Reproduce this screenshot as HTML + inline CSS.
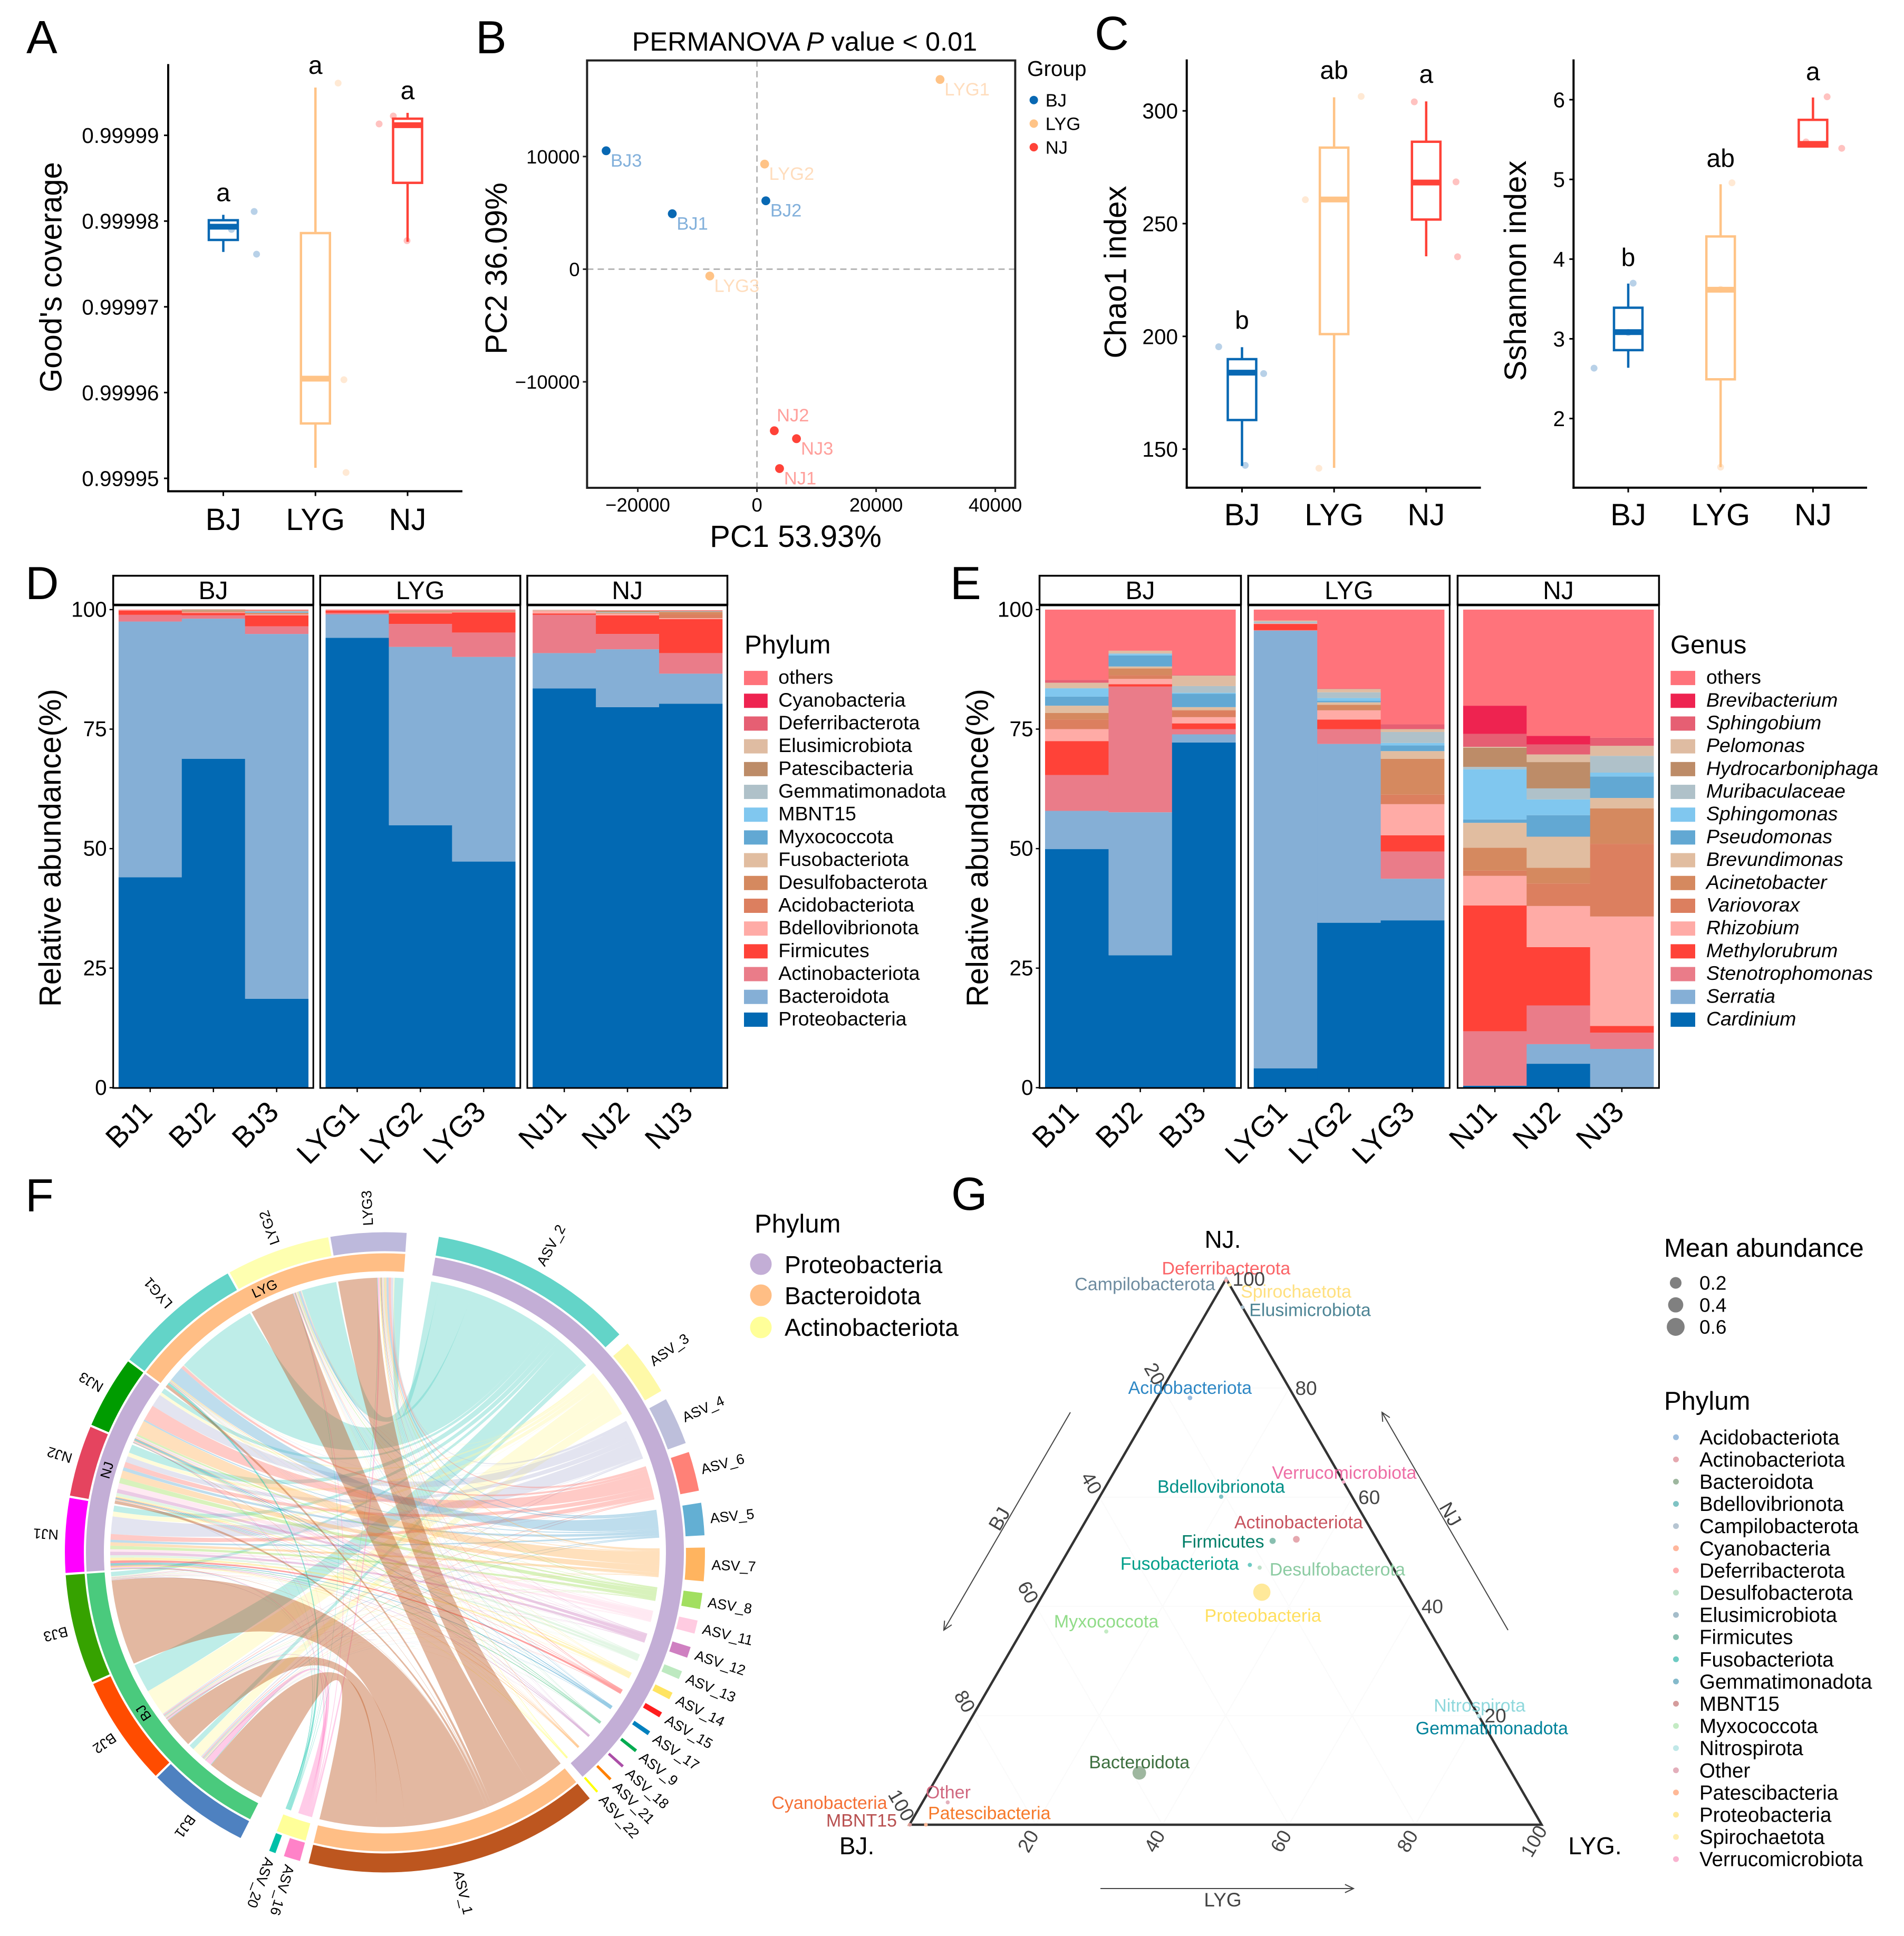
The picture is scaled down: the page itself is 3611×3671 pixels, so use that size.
<!DOCTYPE html>
<html lang="en">
<head>
<meta charset="utf-8">
<title>Microbiome composition figure</title>
<style>
html,body{margin:0;padding:0;background:#fff;}
svg{display:block;}
text{font-family:"Liberation Sans",Arial,sans-serif;fill:#000;}
</style>
</head>
<body>
<svg id="fig" xmlns="http://www.w3.org/2000/svg" width="3611" height="3671" viewBox="0 0 3611 3671">
<rect x="0" y="0" width="3611" height="3671" fill="#fff"/>
<text x="50" y="101" font-size="88">A</text>
<text x="902" y="101" font-size="88">B</text>
<text x="2076" y="94" font-size="90">C</text>
<text x="48" y="1136" font-size="88">D</text>
<text x="1802" y="1136" font-size="88">E</text>
<text x="48" y="2297" font-size="88">F</text>
<text x="1804" y="2294" font-size="88">G</text>

<text transform="translate(116.7,525.5) rotate(-90)" text-anchor="middle" font-size="58">Good's coverage</text>
<text transform="translate(961,509) rotate(-90)" text-anchor="middle" font-size="58">PC2 36.09%</text>
<text x="1509" y="1037" text-anchor="middle" font-size="58">PC1 53.93%</text>
<text x="1526" y="96" text-anchor="middle" font-size="50.5">PERMANOVA <tspan font-style="italic">P</tspan> value &lt; 0.01</text>
<text transform="translate(2135.6,516) rotate(-90)" text-anchor="middle" font-size="58.3">Chao1 index</text>
<text transform="translate(2894,513.5) rotate(-90)" text-anchor="middle" font-size="58.3">Sshannon index</text>
<text transform="translate(114.8,1607.7) rotate(-90)" text-anchor="middle" font-size="58">Relative abundance(%)</text>
<text transform="translate(1873.4,1607.7) rotate(-90)" text-anchor="middle" font-size="58">Relative abundance(%)</text>

<text x="1948" y="144" font-size="40.5">Group</text>
<text x="1412" y="1239" font-size="49">Phylum</text>
<text x="3168" y="1239" font-size="49">Genus</text>

<g>
<text x="1431" y="2337" font-size="49">Phylum</text>
<circle cx="1443" cy="2397" r="20.5" fill="#C3AED6"/>
<circle cx="1443" cy="2456" r="20.5" fill="#FFBE85"/>
<circle cx="1443" cy="2517" r="20.5" fill="#FFFF99"/>
<text x="1488" y="2414" font-size="46">Proteobacteria</text>
<text x="1488" y="2473" font-size="46">Bacteroidota</text>
<text x="1488" y="2533" font-size="46">Actinobacteriota</text>
</g>

<g>
<text x="3156" y="2383" font-size="49">Mean abundance</text>
</g>
<text x="3156" y="2673" font-size="49">Phylum</text>

<g id="panel-a"></g>
<g id="panel-b"></g>
<g id="panel-c1"></g>
<g id="panel-c2"></g>
<g id="panel-d"></g>
<g id="panel-e"></g>
<g id="panel-f"></g>
<g id="panel-g"></g>
</svg>

<script>
/* ---------- Panel A data ---------- */
const groupNames = ['BJ', 'LYG', 'NJ'];
const goodTicks = [0.99995, 0.99996, 0.99997, 0.99998, 0.99999];
const goodLow = [0.9999764, 0.99995123, 0.99997758];
const goodQ1 = [0.9999778, 0.9999564, 0.99998446];
const goodMedian = [0.99997934, 0.99996162, 0.99999118];
const goodQ3 = [0.9999801, 0.9999786, 0.99999194];
const goodHigh = [0.99998073, 0.99999557, 0.99999262];
const goodPoints = [[0.99998112, 0.99997614, 0.99997903], [0.99999609, 0.9999615, 0.99995068], [0.99999133, 0.99999225, 0.99997771]];
const goodJitter = [[0.335, 0.361, 0.089], [0.246, 0.309, 0.332], [-0.309, -0.155, -0.006]];
const goodLetters = ['a', 'a', 'a'];

/* ---------- Panel B data ---------- */
const pcoaSamples = ['BJ1', 'BJ2', 'BJ3', 'LYG1', 'LYG2', 'LYG3', 'NJ1', 'NJ2', 'NJ3'];
const pcoaGroup = [0, 0, 0, 1, 1, 1, 2, 2, 2];
const pcoaPC1 = [-14213, 1489, -25313, 30728, 1286, -7919, 3790, 2910, 6633];
const pcoaPC2 = [4920, 6070, 10511, 16837, 9329, -607, -17700, -14345, -15048];
const pcoaXTicks = [-20000, 0, 20000, 40000];
const pcoaYTicks = [-10000, 0, 10000];

/* ---------- Panel C data ---------- */
const chaoTicks = [150, 200, 250, 300];
const chaoLow = [142.5, 141.7, 235.5];
const chaoQ1 = [162.9, 201, 251.8];
const chaoMedian = [183.9, 260.7, 268.2];
const chaoQ3 = [189.9, 283.7, 286.3];
const chaoHigh = [195.2, 306, 304.2];
const chaoPoints = [[195.4, 183.5, 142.8], [260.6, 306.4, 141.5], [304, 268.5, 235.3]];
const chaoJitter = [[-0.253, 0.235, 0.035], [-0.312, 0.294, -0.165], [-0.129, 0.324, 0.341]];
const chaoLetters = ['b', 'ab', 'a'];

const shanTicks = [2, 3, 4, 5, 6];
const shanLow = [2.637, 1.39, 5.40];
const shanQ1 = [2.858, 2.492, 5.413];
const shanMedian = [3.084, 3.616, 5.445];
const shanQ3 = [3.39, 4.284, 5.747];
const shanHigh = [3.693, 4.939, 6.027];
const shanPoints = [[2.632, 3.698, 3.08], [4.957, 1.39, 3.62], [6.036, 5.39, 5.47]];
const shanJitter = [[-0.37, 0.053, 0], [0.123, 0, 0], [0.153, 0.311, -0.076]];
const shanLetters = ['b', 'ab', 'a'];

/* ---------- Panel D data (percent per sample: BJ1..BJ3, LYG1..LYG3, NJ1..NJ3) ---------- */
const barSamples = [['BJ1', 'BJ2', 'BJ3'], ['LYG1', 'LYG2', 'LYG3'], ['NJ1', 'NJ2', 'NJ3']];
const abundanceTicks = [0, 25, 50, 75, 100];
const phylumNames = ['Proteobacteria', 'Bacteroidota', 'Actinobacteriota', 'Firmicutes', 'Bdellovibrionota', 'Acidobacteriota', 'Desulfobacterota', 'Fusobacteriota', 'Myxococcota', 'MBNT15', 'Gemmatimonadota', 'Patescibacteria', 'Elusimicrobiota', 'Deferribacterota', 'Cyanobacteria', 'others'];
const pProteobacteria = [44, 68.8, 18.6, 94.1, 54.9, 47.3, 83.5, 79.6, 80.3];
const pBacteroidota = [53.5, 29.3, 76.3, 4.9, 37.3, 42.8, 7.4, 12.1, 6.3];
const pActinobacteriota = [1.4, 0.7, 1.6, 0.3, 4.8, 5.1, 8, 3.2, 4.3];
const pFirmicutes = [0.9, 0.5, 2.3, 0.5, 2.2, 4.2, 0.3, 3.9, 7.1];
const pBdellovibrionota = [0.1, 0.15, 0.2, 0.05, 0.2, 0.1, 0.5, 0.3, 0.2];
const pAcidobacteriota = [0, 0.1, 0.1, 0, 0.1, 0.05, 0.05, 0.05, 0.8];
const pDesulfobacterota = [0, 0.15, 0.2, 0, 0.1, 0.1, 0.05, 0.1, 0.5];
const pFusobacteriota = [0, 0.05, 0.05, 0, 0.05, 0.05, 0.05, 0.1, 0.05];
const pMyxococcota = [0, 0, 0.15, 0, 0.02, 0.02, 0, 0.05, 0.05];
const pMBNT15 = [0, 0, 0.05, 0, 0, 0, 0, 0, 0];
const pGemmatimonadota = [0, 0.02, 0.1, 0, 0.03, 0.03, 0.02, 0.05, 0.02];
const pPatescibacteria = [0, 0.2, 0.1, 0, 0.1, 0.05, 0.02, 0.3, 0.1];
const pElusimicrobiota = [0, 0.05, 0.05, 0, 0.05, 0.02, 0.01, 0.02, 0.02];
const pDeferribacterota = [0, 0, 0, 0, 0, 0, 0, 0, 0.01];
const pCyanobacteria = [0, 0, 0, 0, 0, 0, 0, 0, 0.02];
const pOthers = [0.1, 0.05, 0.2, 0.15, 0.15, 0.18, 0.05, 0.1, 0.1];

/* ---------- Panel E data ---------- */
const genusNames = ['Cardinium', 'Serratia', 'Stenotrophomonas', 'Methylorubrum', 'Rhizobium', 'Variovorax', 'Acinetobacter', 'Brevundimonas', 'Pseudomonas', 'Sphingomonas', 'Muribaculaceae', 'Hydrocarboniphaga', 'Pelomonas', 'Sphingobium', 'Brevibacterium', 'others'];
const gCardinium = [49.9, 27.7, 72.2, 4.05, 34.5, 35, 0.4, 5, 0];
const gSerratia = [8, 29.9, 1.7, 91.55, 37.4, 8.7, 0, 4.1, 8.1];
const gStenotrophomonas = [7.5, 26.3, 1.1, 0.1, 3.1, 5.7, 11.4, 8.1, 3.4];
const gMethylorubrum = [7.1, 0.5, 1.2, 1.3, 2, 3.4, 26.3, 12.2, 1.4];
const gRhizobium = [2.5, 1.1, 1.3, 0.1, 1.9, 6.5, 6.2, 8.6, 22.9];
const gVariovorax = [2, 0.8, 1.4, 0, 0.1, 2, 1.1, 4.7, 15.2];
const gAcinetobacter = [1.4, 1.4, 0.1, 0, 1.1, 7.5, 4.8, 3.3, 7.4];
const gBrevundimonas = [1.5, 0.4, 0.6, 0, 0.5, 1.6, 5.2, 6.5, 2.2];
const gPseudomonas = [1.9, 2.3, 2.8, 0, 0.3, 1.2, 0.7, 4.5, 4.5];
const gSphingomonas = [1.7, 0.3, 0.2, 0, 0.6, 0.5, 10.5, 3.3, 0.8];
const gMuribaculaceae = [0.1, 0.2, 1.4, 0.4, 1.2, 2.3, 0.5, 2.3, 3.5];
const gHydrocarboniphaga = [0, 0, 0, 0, 0, 0, 4, 5.5, 0];
const gPelomonas = [1.1, 0.5, 2.2, 0.2, 0.7, 0.6, 0.2, 1.6, 2.1];
const gSphingobium = [0.6, 0, 0.1, 0, 0.1, 1, 2.7, 2.1, 1.7];
const gBrevibacterium = [0, 0, 0, 0, 0, 0, 5.9, 1.8, 0];
const gOthers = [14.7, 8.6, 13.7, 2.3, 16.5, 24, 20.1, 26.4, 26.8];

/* ---------- Panel F data: flow of each ASV into BJ1,BJ2,BJ3,NJ1,NJ2,NJ3,LYG1,LYG2,LYG3 ---------- */
const chordSamples = ['BJ1', 'BJ2', 'BJ3', 'NJ1', 'NJ2', 'NJ3', 'LYG1', 'LYG2', 'LYG3'];
const chordAsvs = ['ASV_2', 'ASV_3', 'ASV_4', 'ASV_6', 'ASV_5', 'ASV_7', 'ASV_8', 'ASV_11', 'ASV_12', 'ASV_13', 'ASV_14', 'ASV_15', 'ASV_17', 'ASV_9', 'ASV_18', 'ASV_21', 'ASV_22', 'ASV_1', 'ASV_16', 'ASV_20'];
const flowAsv2 = [1.05, 5.8, 0.9, 1.2, 1.7, 1, 16.8, 7.1, 1.8];
const flowAsv3 = [2.1, 5.4, 0.1, 1, 0.8, 0.6, 0.1, 0.1, 0.2];
const flowAsv4 = [0.3, 0.2, 0.1, 3.5, 1.2, 2.6, 0.1, 0.1, 0.5];
const flowAsv6 = [0.2, 0.2, 0.1, 1.15, 1.1, 3.2, 0.6, 0.1, 0.5];
const flowAsv5 = [0.2, 0.2, 0.05, 0.5, 0.7, 0.3, 3.1, 0.4, 0.4];
const flowAsv7 = [0.1, 0.1, 0.05, 0.7, 1.5, 2.9, 0.2, 0.1, 0.4];
const flowAsv8 = [0.1, 0.1, 0.05, 0.7, 1.1, 0.4, 0.1, 0.2, 0.15];
const flowAsv11 = [0.1, 0.1, 0.05, 0.5, 1.2, 0.2, 0.05, 0.1, 0.1];
const flowAsv12 = [0.05, 0.1, 0.05, 0.7, 0.8, 0.1, 0.05, 0.05, 0.1];
const flowAsv13 = [0.05, 0.05, 0.02, 0.5, 0.6, 0.1, 0.03, 0.05, 0.1];
const flowAsv14 = [0.03, 0.05, 0.02, 0.6, 0.3, 0.1, 0.03, 0.07, 0.1];
const flowAsv15 = [0.03, 0.05, 0.02, 0.5, 0.1, 0.1, 0.02, 0.08, 0.1];
const flowAsv17 = [0.03, 0.05, 0.01, 0.25, 0.1, 0.2, 0.03, 0.08, 0.05];
const flowAsv9 = [0.02, 0.02, 0.01, 0.2, 0.1, 0.15, 0.02, 0.03, 0.05];
const flowAsv18 = [0.02, 0.02, 0.01, 0.15, 0.1, 0.1, 0.02, 0.03, 0.05];
const flowAsv21 = [0.01, 0.02, 0.01, 0.15, 0.1, 0.05, 0.02, 0.04, 0.1];
const flowAsv22 = [0.01, 0.02, 0.01, 0.1, 0.05, 0.05, 0.02, 0.04, 0.1];
const flowAsv1 = [11.9, 6.2, 17.2, 0.1, 0.6, 0.1, 0.6, 9, 7.8];
const flowAsv16 = [1.3, 0.3, 0.1, 0.3, 0.1, 0.2, 0.1, 0.2, 0.4];
const flowAsv20 = [0.1, 0.1, 0.05, 0.1, 0.05, 0.1, 0.5, 0.1, 0.1];

/* ---------- Panel G data (percent composition and mean abundance) ---------- */
const ternaryNames = ['Acidobacteriota', 'Actinobacteriota', 'Bacteroidota', 'Bdellovibrionota', 'Campilobacterota', 'Cyanobacteria', 'Deferribacterota', 'Desulfobacterota', 'Elusimicrobiota', 'Firmicutes', 'Fusobacteriota', 'Gemmatimonadota', 'MBNT15', 'Myxococcota', 'Nitrospirota', 'Other', 'Patescibacteria', 'Proteobacteria', 'Spirochaetota', 'Verrucomicrobiota'];
const ternaryBJ = [16.6, 12.7, 58.9, 20.7, 0, 100, 0.15, 21.1, 0, 16.6, 22.4, 0, 99.9, 51.2, 0, 91.9, 97.4, 23, 0, 0];
const ternaryLYG = [5.2, 35, 31.6, 19.2, 0, 0, 0.15, 31.8, 5.2, 31.4, 30, 80.2, 0.1, 13.4, 80, 4, 2.6, 34.4, 1.1, 37.2];
const ternaryNJ = [78.2, 52.3, 9.5, 60.1, 100, 0, 99.7, 47.1, 94.8, 52, 47.6, 19.8, 0, 35.4, 20, 4.1, 0, 42.6, 98.9, 62.8];
const ternaryAbundance = [0.006, 0.035, 0.3, 0.004, 0.0005, 0.0005, 0.0005, 0.003, 0.001, 0.025, 0.003, 0.0005, 0.0005, 0.003, 0.0005, 0.002, 0.001, 0.55, 0.0005, 0.0005];
const ternaryTicks = [20, 40, 60, 80, 100];
const sizeLegendValues = [0.2, 0.4, 0.6];

/* ---------- Helpers ---------- */
const NS = 'http://www.w3.org/2000/svg';
function mk(parent, tag, attrs, txt) {
  const el = document.createElementNS(NS, tag);
  for (const k in attrs) el.setAttribute(k, attrs[k]);
  if (txt !== undefined) el.textContent = txt;
  parent.appendChild(el);
  return el;
}
function linear(d0, d1, r0, r1) { return v => r0 + (v - d0) * (r1 - r0) / (d1 - d0); }
const byId = id => document.getElementById(id);

/* ---------- Box plots (A, C) ---------- */
const groupColors = ['#0868B3', '#FFC386', '#FF4238'];
const groupFaint = ['#B8D1E8', '#FFE9D4', '#FFC2C0'];
function drawBoxPanel(c) {
  const g = byId(c.id);
  const lineY = mk(g, 'line', {x1: c.left, x2: c.left, y1: c.top, y2: c.bottom + 2, stroke: '#000', 'stroke-width': 4});
  
  
  const lineX = mk(g, 'line', {x1: c.left - 2, x2: c.right, y1: c.bottom, y2: c.bottom, stroke: '#000', 'stroke-width': 4});
  
  
  c.ticks.forEach(t => {
    const tk = mk(g, 'line', {x1: c.left - 8, x2: c.left, y1: c.y(t), y2: c.y(t), stroke: '#000', 'stroke-width': 3});
    
    
    const lb = mk(g, 'text', {x: c.labelEnd, y: c.y(t) + 14.5, 'text-anchor': 'end', 'font-size': 40.5}, c.fmt(t));
    
    
  });
  groupNames.forEach((name, i) => {
    const cx = c.x(i);
    const tk = mk(g, 'line', {x1: cx, x2: cx, y1: c.bottom, y2: c.bottom + 9, stroke: '#000', 'stroke-width': 3});
    
    
    const lb = mk(g, 'text', {x: cx, y: c.catBase, 'text-anchor': 'middle', 'font-size': 58}, name);
    
    
    const col = groupColors[i];
    c.points[i].forEach((v, j) => {
      const p = mk(g, 'circle', {cx: c.x(i + c.jitter[i][j]), cy: c.y(v), r: 6.5, fill: groupFaint[i]});
      
      
    });
    const wh = mk(g, 'line', {x1: cx, x2: cx, y1: c.y(c.high[i]), y2: c.y(c.q3[i]), stroke: col, 'stroke-width': 4.5});
    
    
    const wl = mk(g, 'line', {x1: cx, x2: cx, y1: c.y(c.q1[i]), y2: c.y(c.low[i]), stroke: col, 'stroke-width': 4.5});
    
    
    const box = mk(g, 'rect', {x: cx - c.half, y: c.y(c.q3[i]), width: c.half * 2, height: c.y(c.q1[i]) - c.y(c.q3[i]), fill: 'none', stroke: col, 'stroke-width': 4.5});
    
    
    const md = mk(g, 'line', {x1: cx - c.half, x2: cx + c.half, y1: c.y(c.med[i]), y2: c.y(c.med[i]), stroke: col, 'stroke-width': 11});
    
    
    const let1 = mk(g, 'text', {x: cx, y: c.y(c.high[i]) - c.letterGap + 13, 'text-anchor': 'middle', 'font-size': 48}, c.letters[i]);
    
    
  });
}
drawBoxPanel({id: 'panel-a', key: 'good-coverage', x: linear(0, 1, 423.5, 598.25), y: linear(0.99995, 0.99999, 907, 256.6),
  ticks: goodTicks, fmt: t => t.toFixed(5), low: goodLow, q1: goodQ1, med: goodMedian, q3: goodQ3, high: goodHigh,
  points: goodPoints, jitter: goodJitter, letters: goodLetters, left: 319, right: 877, top: 121.5, bottom: 931.5,
  half: 27.5, labelEnd: 301.6, catBase: 1005, letterGap: 39});
drawBoxPanel({id: 'panel-c1', key: 'chao1', x: linear(0, 1, 2355.5, 2530.15), y: linear(150, 300, 851.6, 210.2),
  ticks: chaoTicks, fmt: t => String(t), low: chaoLow, q1: chaoQ1, med: chaoMedian, q3: chaoQ3, high: chaoHigh,
  points: chaoPoints, jitter: chaoJitter, letters: chaoLetters, left: 2250.7, right: 2808.6, top: 112.6, bottom: 924.7,
  half: 27, labelEnd: 2234, catBase: 996, letterGap: 48});
drawBoxPanel({id: 'panel-c2', key: 'shannon', x: linear(0, 1, 3088, 3263.2), y: linear(2, 6, 793.6, 189),
  ticks: shanTicks, fmt: t => String(t), low: shanLow, q1: shanQ1, med: shanMedian, q3: shanQ3, high: shanHigh,
  points: shanPoints, jitter: shanJitter, letters: shanLetters, left: 2984.3, right: 3541, top: 112.6, bottom: 924.7,
  half: 27, labelEnd: 2968, catBase: 996, letterGap: 46});

/* ---------- Panel B ---------- */
(function () {
  const g = byId('panel-b');
  const L = 1113.4, R = 1925.4, T = 114.6, B = 925;
  const X = linear(0, 20000, 1435.6, 1661.6);
  const Y = linear(0, 10000, 510.4, 296.8);
  const labelColors = ['#82B0DB', '#FFDDBD', '#FF9F9B'];
  const h = mk(g, 'line', {x1: L, x2: R, y1: Y(0), y2: Y(0), stroke: '#AAA', 'stroke-width': 2.5, 'stroke-dasharray': '12 8'});
  
  
  const v = mk(g, 'line', {x1: X(0), x2: X(0), y1: T, y2: B, stroke: '#AAA', 'stroke-width': 2.5, 'stroke-dasharray': '12 8'});
  
  
  const frame = mk(g, 'rect', {x: L, y: T, width: R - L, height: B - T, fill: 'none', stroke: '#222', 'stroke-width': 4});
  
  
  pcoaXTicks.forEach(t => {
    const tk = mk(g, 'line', {x1: X(t), x2: X(t), y1: B, y2: B + 8, stroke: '#222', 'stroke-width': 3});
    
    
    const lb = mk(g, 'text', {x: X(t), y: 970, 'text-anchor': 'middle', 'font-size': 36.5}, String(t).replace('-', '\u2212'));
    
    
  });
  pcoaYTicks.forEach(t => {
    const tk = mk(g, 'line', {x1: L - 8, x2: L, y1: Y(t), y2: Y(t), stroke: '#222', 'stroke-width': 3});
    
    
    const lb = mk(g, 'text', {x: 1099.6, y: Y(t) + 13, 'text-anchor': 'end', 'font-size': 36.5}, String(t).replace('-', '\u2212'));
    
    
  });
  pcoaSamples.forEach((s, i) => {
    const col = pcoaGroup[i];
    const p = mk(g, 'circle', {cx: X(pcoaPC1[i]), cy: Y(pcoaPC2[i]), r: 8.4, fill: groupColors[col]});
    
    
    const above = s === 'NJ2';
    const lb = mk(g, 'text', {x: X(pcoaPC1[i]) + (above ? 4.6 : 8.4), y: Y(pcoaPC2[i]) + (above ? -18 : 30), 'font-size': 34.5, style: 'fill:' + labelColors[col]}, s);
    
    
  });
  groupNames.forEach((name, i) => {
    const d = mk(g, 'circle', {cx: 1960.6, cy: 189.7 + i * 44.7, r: 8, fill: groupColors[i]});
    
    
    const lb = mk(g, 'text', {x: 1982.8, y: 202 + i * 44.7, 'font-size': 34.5}, name);
    
    
  });
})();

/* ---------- Stacked bars (D, E) ---------- */
const stackColors = ['#0269B3', '#85AFD6', '#EA7C89', '#FF4238', '#FFABA6', '#DC7F5F', '#D5895F', '#E1BDA0', '#62A8D3', '#80C7EF', '#AFC1C9', '#BD8C68', '#DFBCA2', '#E65F73', '#EE2350', '#FF737B'];
function drawStack(c) {
  const g = byId(c.id);
  const Y = linear(0, 100, 2062.4, 1155.9);
  barSamples.forEach((samples, f) => {
    const L = c.facetLeft[f], Rr = L + c.facetWidth;
    const strip = mk(g, 'rect', {x: L, y: 1091.7, width: c.facetWidth, height: 54.8, fill: '#fff', stroke: '#000', 'stroke-width': 3.5});
    
    
    const st = mk(g, 'text', {x: (L + Rr) / 2, y: 1136, 'text-anchor': 'middle', 'font-size': 48}, groupNames[f]);
    
    
    samples.forEach((s, j) => {
      const idx = f * 3 + j;
      const x0 = L + c.pad + j * c.step;
      let cum = 0;
      c.series.forEach((vals, k) => {
        const v = vals[idx];
        if (v > 0) {
          const bar = mk(g, 'rect', {x: x0, y: Y(cum + v), width: c.step + 0.4, height: Y(cum) - Y(cum + v), fill: stackColors[k]});
          
          
        }
        cum += v;
      });
      const cx = x0 + c.step / 2;
      const tk = mk(g, 'line', {x1: cx, x2: cx, y1: 2063, y2: 2071, stroke: '#000', 'stroke-width': 2.5});
      
      
      const lb = mk(g, 'text', {transform: 'translate(' + (cx + 7) + ',2112) rotate(-45)', 'text-anchor': 'end', 'font-size': 56}, s);
      
      
    });
    const frame = mk(g, 'rect', {x: L, y: 1148, width: c.facetWidth, height: 915, fill: 'none', stroke: '#000', 'stroke-width': 3});
    
    
  });
  abundanceTicks.forEach(t => {
    const tk = mk(g, 'line', {x1: c.facetLeft[0] - 7, x2: c.facetLeft[0], y1: Y(t), y2: Y(t), stroke: '#000', 'stroke-width': 2.5});
    
    
    const lb = mk(g, 'text', {x: c.facetLeft[0] - 12, y: Y(t) + 13.5, 'text-anchor': 'end', 'font-size': 40.5}, String(t));
    
    
  });
  for (let i = 0; i < c.names.length; i++) {
    const k = c.names.length - 1 - i;
    const cy = 1285.6 + i * 43.19;
    const sw = mk(g, 'rect', {x: c.legendX, y: cy - 13.5, width: c.swatchW, height: 27, fill: stackColors[k]});
    
    
    const lb = mk(g, 'text', {x: c.legendTextX, y: cy + 11, 'font-size': 37.4, 'font-style': (c.italic && c.names[k] !== 'others') ? 'italic' : 'normal'}, c.names[k]);
    
    
  }
}
drawStack({id: 'panel-d', key: 'phylum', names: phylumNames, italic: false,
  series: [pProteobacteria, pBacteroidota, pActinobacteriota, pFirmicutes, pBdellovibrionota, pAcidobacteriota, pDesulfobacterota, pFusobacteriota, pMyxococcota, pMBNT15, pGemmatimonadota, pPatescibacteria, pElusimicrobiota, pDeferribacterota, pCyanobacteria, pOthers],
  facetLeft: [214.7, 607.3, 1000], facetWidth: 379.5, pad: 10.2, step: 119.9, legendX: 1411, swatchW: 44.8, legendTextX: 1476.3});
drawStack({id: 'panel-e', key: 'genus', names: genusNames, italic: true,
  series: [gCardinium, gSerratia, gStenotrophomonas, gMethylorubrum, gRhizobium, gVariovorax, gAcinetobacter, gBrevundimonas, gPseudomonas, gSphingomonas, gMuribaculaceae, gHydrocarboniphaga, gPelomonas, gSphingobium, gBrevibacterium, gOthers],
  facetLeft: [1971.5, 2367.3, 2764.4], facetWidth: 382, pad: 10.5, step: 120.4, legendX: 3168.4, swatchW: 46.6, legendTextX: 3236});

/* ---------- Panel F: chord diagram ---------- */
(function () {
  const g = byId('panel-f');
  const CX = 730, CY = 2943.5;
  const flows = [flowAsv2, flowAsv3, flowAsv4, flowAsv6, flowAsv5, flowAsv7, flowAsv8, flowAsv11, flowAsv12, flowAsv13, flowAsv14, flowAsv15, flowAsv17, flowAsv9, flowAsv18, flowAsv21, flowAsv22, flowAsv1, flowAsv16, flowAsv20];
  const asvColors = ['#63D4C8', '#FEF9A8', '#BDBFDB', '#FF8177', '#63AFD3', '#FFB45F', '#A2DF60', '#FFCBE1', '#CF80C1', '#BDE9C0', '#FFE461', '#FF1E1E', '#0080BE', '#03AB50', '#AB4EA7', '#FF8000', '#FFFF00', '#BD561F', '#FF82C8', '#00C0A8'];
  const sampleColors = ['#4E81C0', '#FF4C00', '#36A200', '#FF00FF', '#E5445F', '#009C00', '#63D4C8', '#FEFFB0', '#BDB9DC'];
  const asvGaps = [2.2, 1.7, 1.7, 2.2, 2.2, 2.1, 2.1, 2.5, 2.6, 2.7, 2.7, 3, 3.2, 3.1, 2.7, 2.8, 1.6, 1.6, 1.6];
  const pol = (deg, r) => { const a = deg * Math.PI / 180; return [CX + r * Math.sin(a), CY - r * Math.cos(a)]; };
  const pt = p => p[0].toFixed(1) + ' ' + p[1].toFixed(1);
  const sector = (a, b, r0, r1) => 'M' + pt(pol(a, r1)) + 'A' + r1 + ' ' + r1 + ' 0 ' + (b - a > 180 ? 1 : 0) + ' 1 ' + pt(pol(b, r1)) + 'L' + pt(pol(b, r0)) + 'A' + r0 + ' ' + r0 + ' 0 ' + (b - a > 180 ? 1 : 0) + ' 0 ' + pt(pol(a, r0)) + 'Z';
  const rowSum = flows.map(f => f.reduce((s, v) => s + v, 0));
  const colSum = chordSamples.map((_, j) => flows.reduce((s, f) => s + f[j], 0));
  const total = rowSum.reduce((s, v) => s + v, 0);
  const gapsA = asvGaps.reduce((s, v) => s + v, 0);
  const kA = (201.2 - 9.7 - gapsA) / total;
  const kS = (363.9 - 206.8 - 0.4 * 8) / total;
  const asvStart = [], sampleStart = [];
  let a = 9.7;
  rowSum.forEach((v, i) => { asvStart.push(a); a += v * kA + (asvGaps[i] || 0); });
  let b = 206.8;
  colSum.forEach(v => { sampleStart.push(b); b += v * kS + 0.4; });
  const R = 521;
  const C = pt([CX, CY]);
  const asvOffsets = flows.map((f, i) => {
    const out = [];
    let c = asvStart[i];
    for (let j = f.length - 1; j >= 0; j--) { out[j] = c; c += f[j] * kA; }
    return out;
  });
  const ringOrder = [17, 19, 18, 16, 15, 14, 13, 12, 11, 10, 9, 8, 7, 6, 5, 4, 3, 2, 1, 0];
  const sampleOffsets = chordSamples.map((_, j) => {
    const out = [];
    let c = sampleStart[j];
    ringOrder.forEach(i => { out[i] = c; c += flows[i][j] * kS; });
    return out;
  });
  const ribbonOrder = [0, 1, 2, 3, 4, 5, 6, 7, 8, 9, 10, 11, 12, 13, 14, 15, 16, 18, 19, 17];
  ribbonOrder.forEach(i => {
    flows[i].forEach((v, j) => {
      if (v <= 0) return;
      const a1 = asvOffsets[i][j], a2 = a1 + v * kA;
      const b1 = sampleOffsets[j][i], b2 = b1 + v * kS;
      const d = 'M' + pt(pol(a1, R)) + 'A' + R + ' ' + R + ' 0 0 1 ' + pt(pol(a2, R)) + 'Q' + C + ' ' + pt(pol(b1, R)) + 'A' + R + ' ' + R + ' 0 0 1 ' + pt(pol(b2, R)) + 'Q' + C + ' ' + pt(pol(a1, R)) + 'Z';
      const rib = mk(g, 'path', {d: d, fill: asvColors[i], 'fill-opacity': 0.42});
      
      
    });
  });
  chordAsvs.forEach((name, i) => {
    const s = asvStart[i], e = s + rowSum[i] * kA;
    const seg = mk(g, 'path', {d: sector(s, e, 571, 607), fill: asvColors[i]});
    
    
    const mid = (s + e) / 2;
    const p = pol(mid, 620);
    const lb = mk(g, 'text', {transform: 'translate(' + p[0].toFixed(1) + ',' + p[1].toFixed(1) + ') rotate(' + (mid - 90).toFixed(1) + ')', 'font-size': 27, dy: '0.35em'}, name);
    
    
  });
  chordSamples.forEach((name, j) => {
    const s = sampleStart[j], e = s + colSum[j] * kS;
    const seg = mk(g, 'path', {d: sector(s, e, 571, 607), fill: sampleColors[j]});
    
    
    const mid = (s + e) / 2;
    const p = pol(mid, 620);
    const lb = mk(g, 'text', {transform: 'translate(' + p[0].toFixed(1) + ',' + p[1].toFixed(1) + ') rotate(' + (mid - 90).toFixed(1) + ')', 'font-size': 27, dy: '0.35em'}, name);
    
    
  });
  const asvEnd = i => asvStart[i] + rowSum[i] * kA;
  const sampleEnd = j => sampleStart[j] + colSum[j] * kS;
  const inner = [
    ['proteobacteria', asvStart[0], asvEnd(16), '#C3AED6', ''],
    ['bacteroidota', asvStart[17], asvEnd(17), '#FFBE85', ''],
    ['actinobacteriota', asvStart[18], asvEnd(19), '#FFFF99', ''],
    ['bj', sampleStart[0], sampleEnd(2), '#4ACA7D', 'BJ'],
    ['nj', sampleStart[3], sampleEnd(5), '#C3AED6', 'NJ'],
    ['lyg', sampleStart[6], sampleEnd(8), '#FFBE85', 'LYG']
  ];
  inner.forEach(r => {
    const seg = mk(g, 'path', {d: sector(r[1], r[2], 533, 567), fill: r[3]});
    
    
    if (r[4]) {
      const mid = (r[1] + r[2]) / 2;
      const p = pol(mid, 550);
      const lb = mk(g, 'text', {transform: 'translate(' + p[0].toFixed(1) + ',' + p[1].toFixed(1) + ') rotate(' + mid.toFixed(1) + ')', 'text-anchor': 'middle', 'font-size': 26, dy: '0.35em'}, r[4]);
      
      
    }
  });
})();

/* ---------- Panel G: ternary ---------- */
(function () {
  const g = byId('panel-g');
  const top = [2325.4, 2425], left = [1724.8, 3460], right = [2923.8, 3460];
  const ter = (bj, lyg, nj) => {
    const s = bj + lyg + nj;
    return [(bj * left[0] + lyg * right[0] + nj * top[0]) / s, (bj * left[1] + lyg * right[1] + nj * top[1]) / s];
  };
  const textColors = {Acidobacteriota: '#2F88C5', Actinobacteriota: '#C8545F', Bacteroidota: '#3E7040', Bdellovibrionota: '#009088', Campilobacterota: '#6E8CA0', Cyanobacteria: '#F57137', Deferribacterota: '#FB6467', Desulfobacterota: '#8CCBA2', Elusimicrobiota: '#4E8595', Firmicutes: '#007E68', Fusobacteriota: '#009F8A', Gemmatimonadota: '#00829A', MBNT15: '#B85050', Myxococcota: '#90DC88', Nitrospirota: '#8FD8DC', Other: '#D0677F', Patescibacteria: '#F67A2B', Proteobacteria: '#FFDF5F', Spirochaetota: '#FFE080', Verrucomicrobiota: '#EE6EA5'};
  const dotColors = {Acidobacteriota: '#9DBEDF', Actinobacteriota: '#E5A8AF', Bacteroidota: '#9EB79F', Bdellovibrionota: '#7FC3C4', Campilobacterota: '#B6C5D2', Cyanobacteria: '#FFB79D', Deferribacterota: '#FFAEAE', Desulfobacterota: '#BDE0C8', Elusimicrobiota: '#A5BDCA', Firmicutes: '#88BFB0', Fusobacteriota: '#6DCBC3', Gemmatimonadota: '#85BACB', MBNT15: '#D59C9C', Myxococcota: '#C4EBC4', Nitrospirota: '#C0E8E8', Other: '#E3AFBB', Patescibacteria: '#FFB997', Proteobacteria: '#FFE99A', Spirochaetota: '#FFEFB0', Verrucomicrobiota: '#F9B3D0'};
  const nudge = {Acidobacteriota: [0, -19.7], Actinobacteriota: [4.3, -32.8], Bacteroidota: [0, -20.6], Bdellovibrionota: [0, -19.7], Campilobacterota: [-154, 9.4], Cyanobacteria: [-151.8, -42.2], Deferribacterota: [0, -23.5], Desulfobacterota: [147.4, 2.8], Elusimicrobiota: [128, 4.7], Firmicutes: [-94.3, 0.9], Fusobacteriota: [-133, -2.8], Gemmatimonadota: [24, 21.6], MBNT15: [-92, -8.4], Myxococcota: [0, -19.7], Nitrospirota: [2, -19.7], Other: [1, -19.7], Patescibacteria: [120.3, -22.5], Proteobacteria: [2, 44], Spirochaetota: [126, 12.2], Verrucomicrobiota: [1.4, -17.8]};
  const sizeOf = a => 3 + 18 * Math.sqrt(a);

  ternaryTicks.slice(0, 4).forEach(t => {
    const f = t;
    [[ter(100 - f, 0, f), ter(0, 100 - f, f)], [ter(f, 100 - f, 0), ter(f, 0, 100 - f)], [ter(100 - f, f, 0), ter(0, f, 100 - f)]].forEach(pair => {
      const ln = mk(g, 'line', {x1: pair[0][0], y1: pair[0][1], x2: pair[1][0], y2: pair[1][1], stroke: '#FAFAFA', 'stroke-width': 2});
      
      
    });
  });
  const tri = mk(g, 'polygon', {points: top.join(',') + ' ' + left.join(',') + ' ' + right.join(','), fill: 'none', stroke: '#333', 'stroke-width': 4.5});
  
  

  ternaryNames.forEach((name, i) => {
    const p = ter(ternaryBJ[i], ternaryLYG[i], ternaryNJ[i]);
    const dot = mk(g, 'circle', {cx: p[0], cy: p[1], r: sizeOf(ternaryAbundance[i]), fill: dotColors[name]});
    
    
  });
  ternaryNames.forEach((name, i) => {
    const p = ter(ternaryBJ[i], ternaryLYG[i], ternaryNJ[i]);
    const n = nudge[name];
    const lb = mk(g, 'text', {x: p[0] + n[0], y: p[1] + n[1] + 12, 'text-anchor': 'middle', 'font-size': 34, style: 'fill:' + textColors[name]}, name);
    
    
  });

  ternaryTicks.forEach(t => {
    const pr = ter(0, 100 - t, t);
    const r = mk(g, 'text', {x: pr[0] + (t === 100 ? 43 : 32), y: pr[1] + 13, 'text-anchor': 'middle', 'font-size': 37, style: 'fill:#444'}, String(t));
    
    
    const pl = ter(t, 0, 100 - t);
    const lx = pl[0] - 15, ly = pl[1] - (t === 100 ? 37 : 27);
    const l = mk(g, 'text', {transform: 'translate(' + lx + ',' + ly + ') rotate(60)', 'text-anchor': 'middle', dy: '0.35em', 'font-size': 37, style: 'fill:#444'}, String(t));
    
    
    const pb = ter(100 - t, t, 0);
    const bx = pb[0] - 15, by = pb[1] + 31;
    const b = mk(g, 'text', {transform: 'translate(' + bx + ',' + by + ') rotate(-60)', 'text-anchor': 'middle', dy: '0.35em', 'font-size': 37, style: 'fill:#444'}, String(t));
    
    
  });

  const apexT = mk(g, 'text', {x: 2319, y: 2366, 'text-anchor': 'middle', 'font-size': 46}, 'NJ.');
  
  
  const apexL = mk(g, 'text', {x: 1625, y: 3516, 'text-anchor': 'middle', 'font-size': 46}, 'BJ.');
  
  
  const apexR = mk(g, 'text', {x: 3025, y: 3516, 'text-anchor': 'middle', 'font-size': 46}, 'LYG.');
  
  

  const arrows = [
    ['bj', 2030, 2678, 1790, 3091, 'BJ', 1895, 2880, -60],
    ['nj', 2860, 3091, 2621, 2678, 'NJ', 2751, 2871, 60],
    ['lyg', 2087, 3581, 2567, 3581, 'LYG', 2319, 3602, 0]
  ];
  arrows.forEach(a => {
    const ang = Math.atan2(a[4] - a[2], a[3] - a[1]);
    const hl = 18;
    const h1 = [a[3] - hl * Math.cos(ang - 0.45), a[4] - hl * Math.sin(ang - 0.45)];
    const h2 = [a[3] - hl * Math.cos(ang + 0.45), a[4] - hl * Math.sin(ang + 0.45)];
    const arrow = mk(g, 'path', {d: 'M' + a[1] + ' ' + a[2] + 'L' + a[3] + ' ' + a[4] + 'M' + h1.join(' ') + 'L' + a[3] + ' ' + a[4] + 'L' + h2.join(' '), fill: 'none', stroke: '#444', 'stroke-width': 2});
    
    
    const lb = mk(g, 'text', {transform: 'translate(' + a[6] + ',' + a[7] + ') rotate(' + a[8] + ')', 'text-anchor': 'middle', dy: '0.35em', 'font-size': 37, style: 'fill:#444'}, a[5]);
    
    
  });

  sizeLegendValues.forEach((v, i) => {
    const cy = 2432.6 + i * 41.7;
    const d = mk(g, 'circle', {cx: 3178, cy: cy, r: sizeOf(v), fill: '#808080'});
    
    
    const lb = mk(g, 'text', {x: 3223, y: cy + 13, 'font-size': 37}, String(v));
    
    
  });
  ternaryNames.forEach((name, i) => {
    const cy = 2725.3 + i * 42.1;
    const d = mk(g, 'circle', {cx: 3178.5, cy: cy, r: 5.5, fill: dotColors[name]});
    
    
    const lb = mk(g, 'text', {x: 3223, y: cy + 13.5, 'font-size': 38.5}, name);
    
    
  });
})();
</script>
</body>
</html>
